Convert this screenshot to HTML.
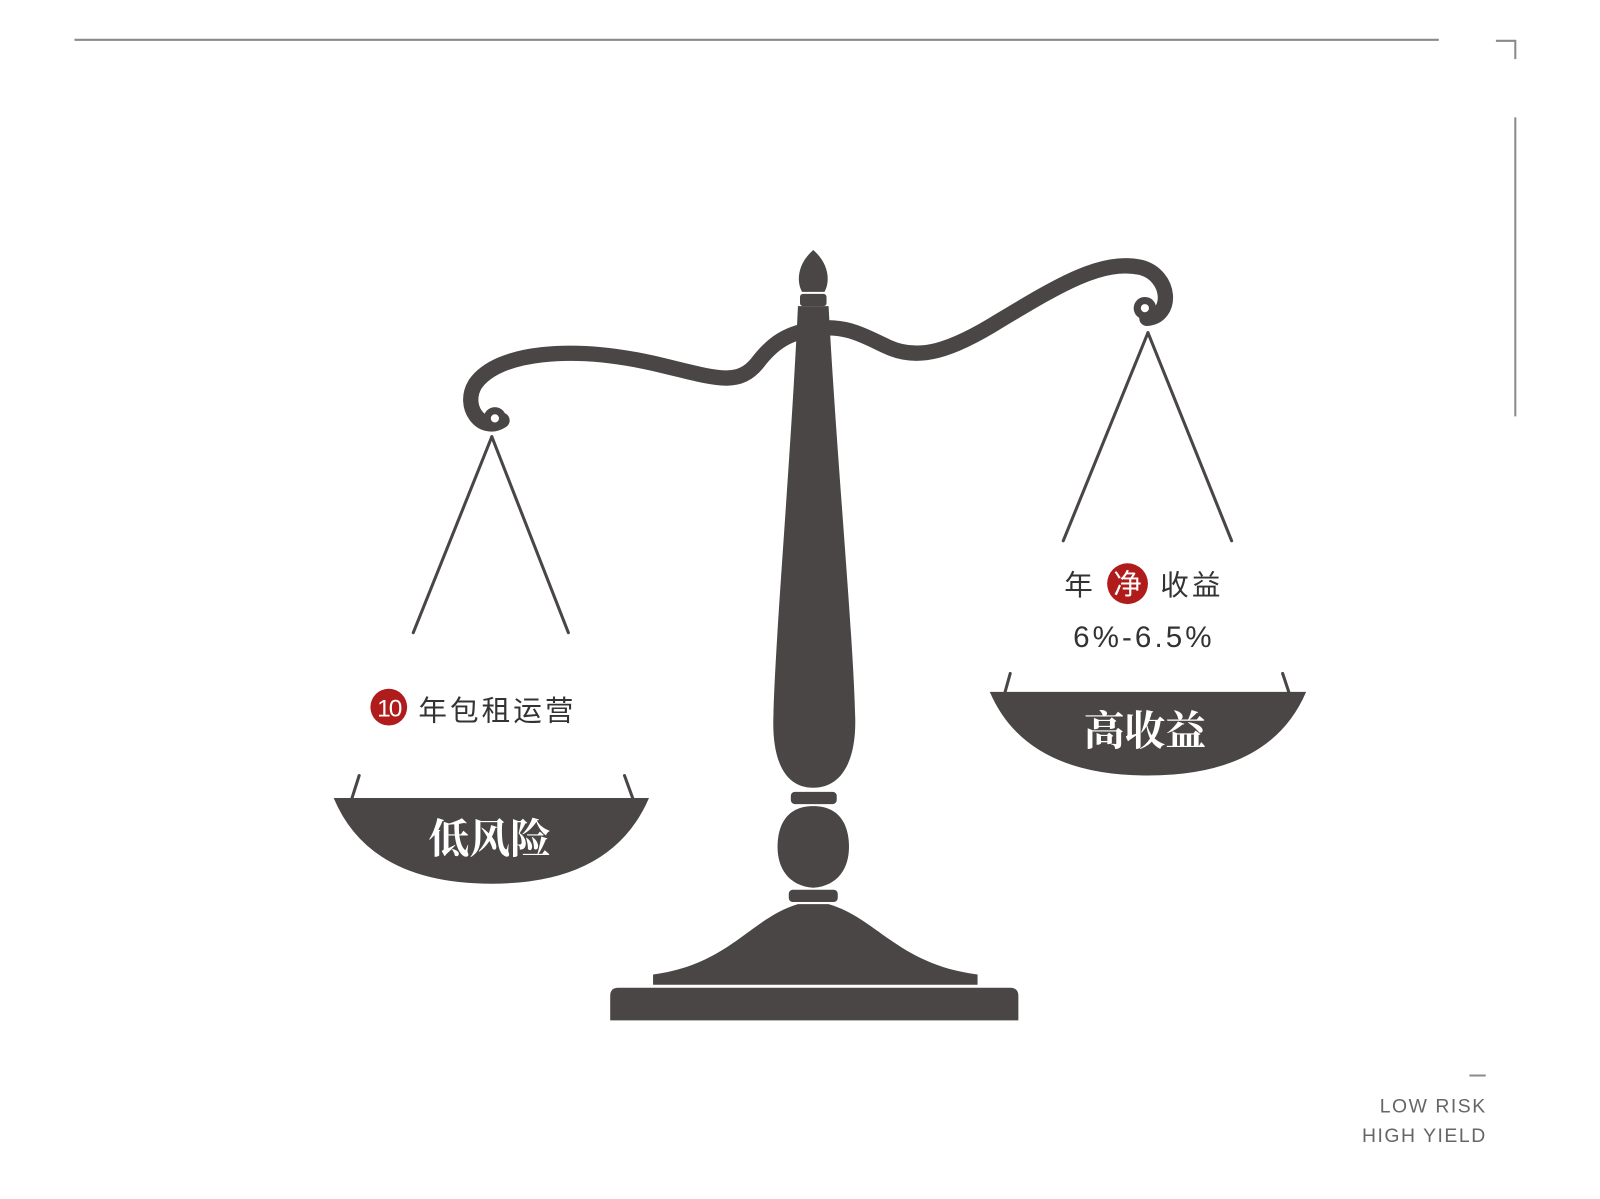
<!DOCTYPE html>
<html><head><meta charset="utf-8"><style>
html,body{margin:0;padding:0;background:#fff;}
svg{display:block;}
</style></head><body>
<svg width="1600" height="1199" viewBox="0 0 1568 1175" preserveAspectRatio="none" xmlns="http://www.w3.org/2000/svg">
<g fill="none" stroke="#8a8a8a" stroke-width="2">
<line x1="73" y1="39" x2="1410" y2="39"/>
<polyline points="1466,40 1485,40 1485,58"/>
<line x1="1485" y1="115" x2="1485" y2="408"/>
<line x1="1440" y1="1054" x2="1456" y2="1054"/>
</g>
<g fill="#4a4646" stroke="none">
<path d="M797,245 C782,258 780,275 786,286 L808,286 C814,275 812,258 797,245Z"/>
<rect x="784" y="288" width="26" height="12" rx="3"/>
<path d="M782,300 L812,300 C820,450 836,620 838,700 C840,745 825,772 797,772 C769,772 756,745 758,700 C760,620 775,450 782,300Z"/>
<rect x="775" y="776" width="45" height="12" rx="4"/>
<path d="M797,790 C770,790 762,810 762,830 C762,850 772,868 797,870 C822,868 832,850 832,830 C832,810 824,790 797,790Z"/>
<rect x="773" y="872" width="48" height="12" rx="4"/>
<path d="M782,886 L812,886 C860,900 880,945 958,955 L958,965 L640,965 L640,955 C715,945 735,900 782,886Z"/>
<path d="M606,968 L990,968 Q998,968 998,976 L998,1000 L598,1000 L598,976 Q598,968 606,968Z"/>
<path d="M327,782 L636,782 Q600,866 482,866 Q362,866 327,782Z"/>
<path d="M970,678 L1280,678 Q1245,760 1125,760 Q1005,760 970,678Z"/>
</g>
<g fill="none" stroke="#4a4646" stroke-linecap="round">
<path stroke-width="15" d="M492,412 C472,425 452,398 466,376 C488,345 560,338 640,356 C700,370 722,380 742,356 C757,336 772,326 800,322"/>
<path stroke-width="15" d="M800,322 C830,318 848,330 870,340 C900,354 932,344 980,314 C1040,278 1080,254 1118,262 C1148,270 1150,310 1124,312"/>
<g stroke-width="3">
<line x1="482" y1="428" x2="405" y2="620"/>
<line x1="482" y1="428" x2="557" y2="620"/>
<line x1="1125" y1="326" x2="1042" y2="530"/>
<line x1="1125" y1="326" x2="1207" y2="530"/>
<line x1="352" y1="760" x2="345" y2="782"/>
<line x1="612" y1="760" x2="620" y2="782"/>
<line x1="990" y1="660" x2="985" y2="678"/>
<line x1="1257" y1="660" x2="1263" y2="678"/>
</g>
</g>
<circle cx="485" cy="410" r="11" fill="#4a4646"/><circle cx="485" cy="410" r="4" fill="#fff"/>
<circle cx="1122" cy="302" r="11" fill="#4a4646"/><circle cx="1122" cy="302" r="4" fill="#fff"/>
<g font-family="'Liberation Serif','Noto Serif CJK SC',serif" font-weight="bold" fill="#fff" text-anchor="middle" font-size="40">
<text x="480" y="836">低风险</text>
<text x="1122" y="730">高收益</text>
</g>
<circle cx="381" cy="693" r="18" fill="#b01c1c"/>
<text x="381" y="702" fill="#fff" font-family="'Liberation Sans',sans-serif" font-size="24" text-anchor="middle" letter-spacing="-2">10</text>
<g font-family="'Liberation Sans','Noto Sans CJK SC',sans-serif" fill="#333" font-size="28">
<text x="410" y="706" letter-spacing="3">年包租运营</text>
<text x="1043" y="583">年</text>
<circle cx="1105" cy="572" r="20" fill="#b01c1c"/>
<text x="1105" y="582" fill="#fff" text-anchor="middle">净</text>
<text x="1137" y="583" letter-spacing="3">收益</text>
<text x="1121" y="634" text-anchor="middle" letter-spacing="3" font-size="29">6%-6.5%</text>
</g>
<g font-family="'Liberation Sans',sans-serif" fill="#666" font-size="19" text-anchor="end" letter-spacing="1.5">
<text x="1457" y="1090">LOW RISK</text>
<text x="1457" y="1119">HIGH YIELD</text>
</g>
</svg>
</body></html>
